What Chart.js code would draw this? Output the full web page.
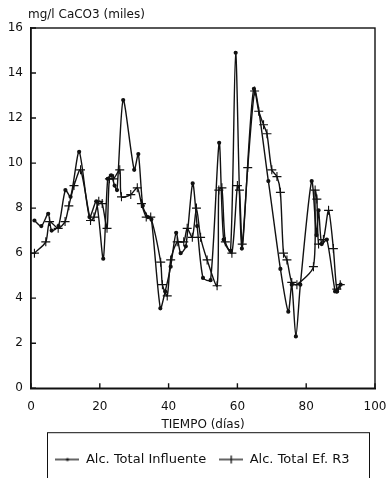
<!DOCTYPE html>
<html>
<head>
<meta charset="utf-8">
<script src="https://cdn.jsdelivr.net/npm/chart.js@4/dist/chart.umd.min.js"></script>
<style>
  html, body { margin: 0; padding: 0; background: #fff; }
  canvas { display: block; }
</style>
</head>
<body>
<canvas id="chart" width="389" height="478"></canvas>
<script>
// Alcalinidad total, mg/l CaCO3 (miles) vs tiempo (dias)
const influenteDias = [1, 3, 5, 6, 8, 10, 11.5, 14, 17, 19, 21, 22.3, 23.3, 24.3, 25, 26.8, 30, 31.2, 32.5, 34, 35,
  37.6, 39, 40.6, 42.2, 43.5, 45, 47, 48.3, 50, 52.2, 54.7, 56, 58, 59.5, 61.3, 64.8, 69, 72.5, 74.8, 75.8,
  77, 78.3, 81.6, 83, 83.6, 84.5, 86, 88.4, 89, 90]
const influenteVals = [7.45, 7.2, 7.75, 7.0, 7.2, 8.8, 8.5, 10.5, 7.6, 8.3, 5.75, 9.3, 9.45, 9.0, 8.8, 12.8, 9.7, 10.4, 8.1, 7.6, 7.5,
  3.55, 4.3, 5.4, 6.9, 6.0, 6.3, 9.1, 7.2, 4.9, 4.8, 10.9, 6.6, 6.1, 14.9, 6.2, 13.3, 9.2, 5.3, 3.4, 4.6,
  2.3, 4.6, 9.2, 6.8, 7.9, 6.4, 6.6, 4.3, 4.3, 4.6]

const efluenteDias = [1, 4.3, 5.4, 7.9, 9.9, 11, 12.5, 14.4, 17.3, 18.3, 19.7, 20.7, 22.1, 22.8, 24, 25.8, 26.3, 29, 30.9,
  32.1, 33.5, 34.8, 37.7, 38.2, 39.6, 40.6, 42.5, 44.4, 45.4, 46.9, 48.1, 49.3, 51.2, 54.1, 54.6, 55.5, 56.5,
  58.4, 60, 60.6, 61.4, 63, 65, 66.2, 67.6, 68.6, 70, 71.5, 72.5, 73.4, 74.4, 75.8, 77.3, 82.1, 82.6, 83.1,
  83.6, 85, 86.5, 87.9, 88.9, 89.9]
const efluenteVals = [6.0, 6.5, 7.4, 7.1, 7.4, 8.1, 9.0, 9.7, 7.45, 7.6, 8.3, 8.2, 7.1, 9.3, 9.3, 9.7, 8.5, 8.6, 8.9,
  8.2, 7.6, 7.6, 5.6, 4.6, 4.1, 5.7, 6.5, 6.5, 7.1, 6.7, 8.0, 6.7, 5.7, 4.55, 8.8, 8.9, 6.5,
  6.0, 9.0, 8.8, 6.4, 9.8, 13.2, 12.3, 11.7, 11.3, 9.7, 9.4, 8.7, 6.0, 5.7, 4.7, 4.6, 5.4, 8.8, 8.4,
  6.4, 6.6, 7.9, 6.2, 4.4, 4.6]

const xTicks = [0, 20, 40, 60, 80, 100]
const yTicks = [0, 2, 4, 6, 8, 10, 12, 14, 16]

const ink = '#111'
const family = '"DejaVu Sans", Verdana, sans-serif'
const font = { family: family, size: 12 }

function pairs(xs, ys) {
  return xs.map((x, i) => ({ x: x, y: ys[i] }))
}

// small legend samples: line with a dot / line with a cross
function sample(kind) {
  const c = document.createElement('canvas')
  c.width = 24
  c.height = 10
  const g = c.getContext('2d')
  g.strokeStyle = ink
  g.fillStyle = ink
  g.lineWidth = 1.3
  g.beginPath()
  g.moveTo(0, 5)
  g.lineTo(24, 5)
  g.stroke()
  if (kind === 'dot') {
    g.beginPath()
    g.arc(12, 5, 1.6, 0, Math.PI * 2)
    g.fill()
  } else {
    g.beginPath()
    g.moveTo(12, 1)
    g.lineTo(12, 9)
    g.stroke()
  }
  return c
}

const frame = {
  id: 'frame',
  afterLayout(chart) {
    // legend sits a little right of centre in the original
    chart.legend.left += 8
    chart.legend.right += 8
  },
  afterDraw(chart) {
    const { ctx, chartArea: a, scales } = chart
    ctx.save()
    ctx.strokeStyle = ink
    ctx.lineWidth = 1.4
    ctx.strokeRect(a.left, a.top, a.right - a.left, a.bottom - a.top)
    ctx.beginPath()
    xTicks.forEach(v => {
      const px = scales.x.getPixelForValue(v)
      ctx.moveTo(px, a.bottom)
      ctx.lineTo(px, a.bottom - 5)
    })
    yTicks.forEach(v => {
      const py = scales.y.getPixelForValue(v)
      ctx.moveTo(a.left, py)
      ctx.lineTo(a.left + 5, py)
    })
    ctx.stroke()
    // y axis caption above the plot
    ctx.fillStyle = ink
    ctx.font = '12px ' + family
    ctx.textBaseline = 'alphabetic'
    ctx.fillText('mg/l CaCO3 (miles)', a.left - 3, a.top - 10)
    // legend frame
    const lg = chart.legend
    ctx.lineWidth = 1
    ctx.strokeRect(47.5, lg.top + 0.5, 322, 46)
    ctx.restore()
  }
}

new Chart(document.getElementById('chart'), {
  type: 'line',
  data: {
    datasets: [
      {
        label: 'Alc. Total Influente',
        data: pairs(influenteDias, influenteVals),
        borderColor: ink,
        backgroundColor: ink,
        borderWidth: 1.4,
        pointStyle: 'circle',
        pointRadius: 1.4,
        tension: 0.25
      },
      {
        label: 'Alc. Total Ef. R3',
        data: pairs(efluenteDias, efluenteVals),
        borderColor: ink,
        backgroundColor: ink,
        borderWidth: 1.4,
        pointStyle: 'cross',
        pointRadius: 4.5,
        pointBorderWidth: 1.1,
        tension: 0.25
      }
    ]
  },
  options: {
    responsive: false,
    animation: false,
    layout: { padding: { top: 28, right: 0, bottom: 2, left: 0 } },
    plugins: {
      tooltip: { enabled: false },
      legend: {
        position: 'bottom',
        title: { display: true, text: ' ', font: { size: 4 }, padding: { top: 3, bottom: 0 } },
        labels: {
          color: ink,
          font: { family: family, size: 13 },
          usePointStyle: true,
          pointStyleWidth: 24,
          boxHeight: 10,
          padding: 13,
          generateLabels(chart) {
            const items = Chart.defaults.plugins.legend.labels.generateLabels(chart)
            items[0].pointStyle = sample('dot')
            items[1].pointStyle = sample('cross')
            return items
          }
        }
      }
    },
    scales: {
      x: {
        type: 'linear',
        min: 0,
        max: 100,
        afterBuildTicks(s) { s.ticks = xTicks.map(v => ({ value: v })) },
        afterFit(s) { s.height = 44; s.paddingLeft = 0; s.paddingRight = 14 },
        grid: { display: false, drawTicks: false },
        border: { display: true, color: ink, width: 1.4 },
        ticks: { color: ink, font: font, padding: 11, maxRotation: 0 },
        title: { display: true, text: 'TIEMPO (días)', color: ink, font: font, padding: { top: 2, bottom: 0 } }
      },
      y: {
        min: 0,
        max: 16,
        afterBuildTicks(s) { s.ticks = yTicks.map(v => ({ value: v })) },
        afterFit(s) { s.width = 31 },
        grid: { display: false, drawTicks: false },
        border: { display: true, color: ink, width: 1.4 },
        ticks: { color: ink, font: font, padding: 8 }
      }
    }
  },
  plugins: [frame]
})
</script>
</body>
</html>
